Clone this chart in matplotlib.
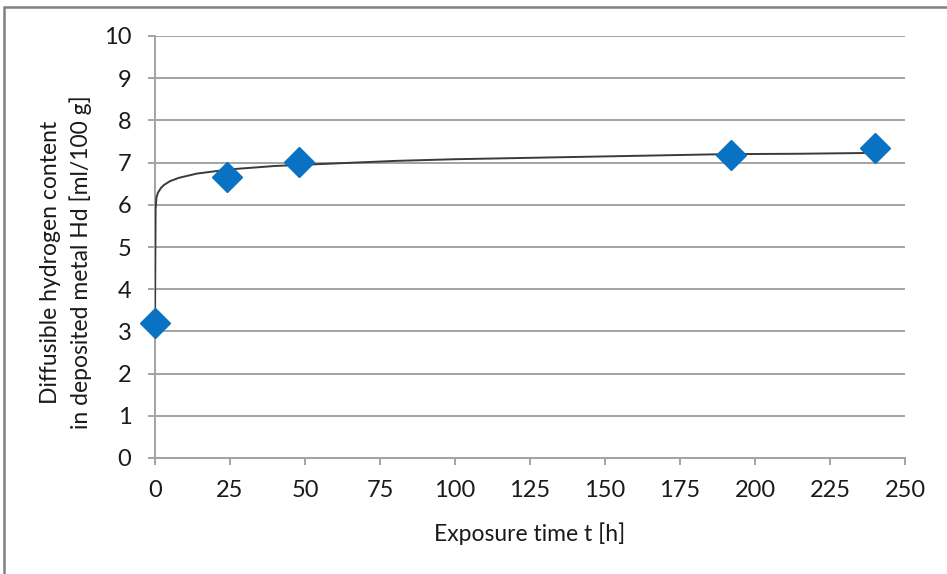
import matplotlib
matplotlib.use("Agg")
import matplotlib.pyplot as plt
from matplotlib.patches import Rectangle

# measured points
t_meas = [0, 24, 48, 192, 240]
hd_meas = [3.2, 6.65, 7.02, 7.18, 7.35]

# trend line
t_fit = [0, 0.2, 0.5, 1, 2, 3, 5, 8, 14, 25, 40, 60, 80, 100, 130, 160, 190, 215, 240]
hd_fit = [3.2, 5.9, 6.18, 6.29, 6.4, 6.47, 6.56, 6.64, 6.74, 6.84, 6.92, 6.98, 7.04,
          7.08, 7.12, 7.16, 7.2, 7.21, 7.23]

x_ticks = list(range(0, 251, 25))
y_ticks = list(range(0, 11))

plt.rcParams['font.family'] = ['Lato', 'DejaVu Sans']
grid_col = '#a3a3a3'

fig = plt.figure(figsize=(9.47, 5.74), dpi=100)
ax = fig.add_axes([155 / 947, 1 - 458 / 574, 750 / 947, 422 / 574])

ax.plot(t_fit, hd_fit, color='#3a3a3a', lw=1.4, zorder=3)
ax.plot(t_meas, hd_meas, ls='none', marker='D', ms=15, color='#0a72c2',
        mec='#0a72c2', zorder=4, clip_on=False)

ax.set_xlim(0, 250)
ax.set_ylim(0, 10)
ax.set_xticks(x_ticks)
ax.set_yticks(y_ticks)
ax.yaxis.grid(True, color=grid_col, lw=1.4)
ax.set_axisbelow(True)
for s in ['top', 'right']:
    ax.spines[s].set_visible(False)
for s in ['left', 'bottom']:
    ax.spines[s].set_color(grid_col)
    ax.spines[s].set_linewidth(1.4)
ax.tick_params(axis='both', direction='out', length=5, width=1.4, color=grid_col,
               labelsize=17, labelcolor='#1a1a1a')
ax.tick_params(axis='y', pad=12)
ax.tick_params(axis='x', pad=11)

ax.set_xlabel('Exposure time t [h]', fontsize=16.5, color='#1a1a1a', labelpad=15)
fig.text(66 / 947, 1 - 262 / 574,
         'Diffusible hydrogen content\nin deposited metal Hd [ml/100 g]',
         rotation=90, ha='center', va='center', fontsize=16.5, color='#1a1a1a',
         linespacing=1.45)

fig.add_artist(Rectangle((4 / 947, -0.1), 1.2, 1 - 7 / 574 + 0.1,
                         transform=fig.transFigure, fill=False,
                         ec='#808080', lw=1.8))

fig.savefig('out.png', dpi=100)
